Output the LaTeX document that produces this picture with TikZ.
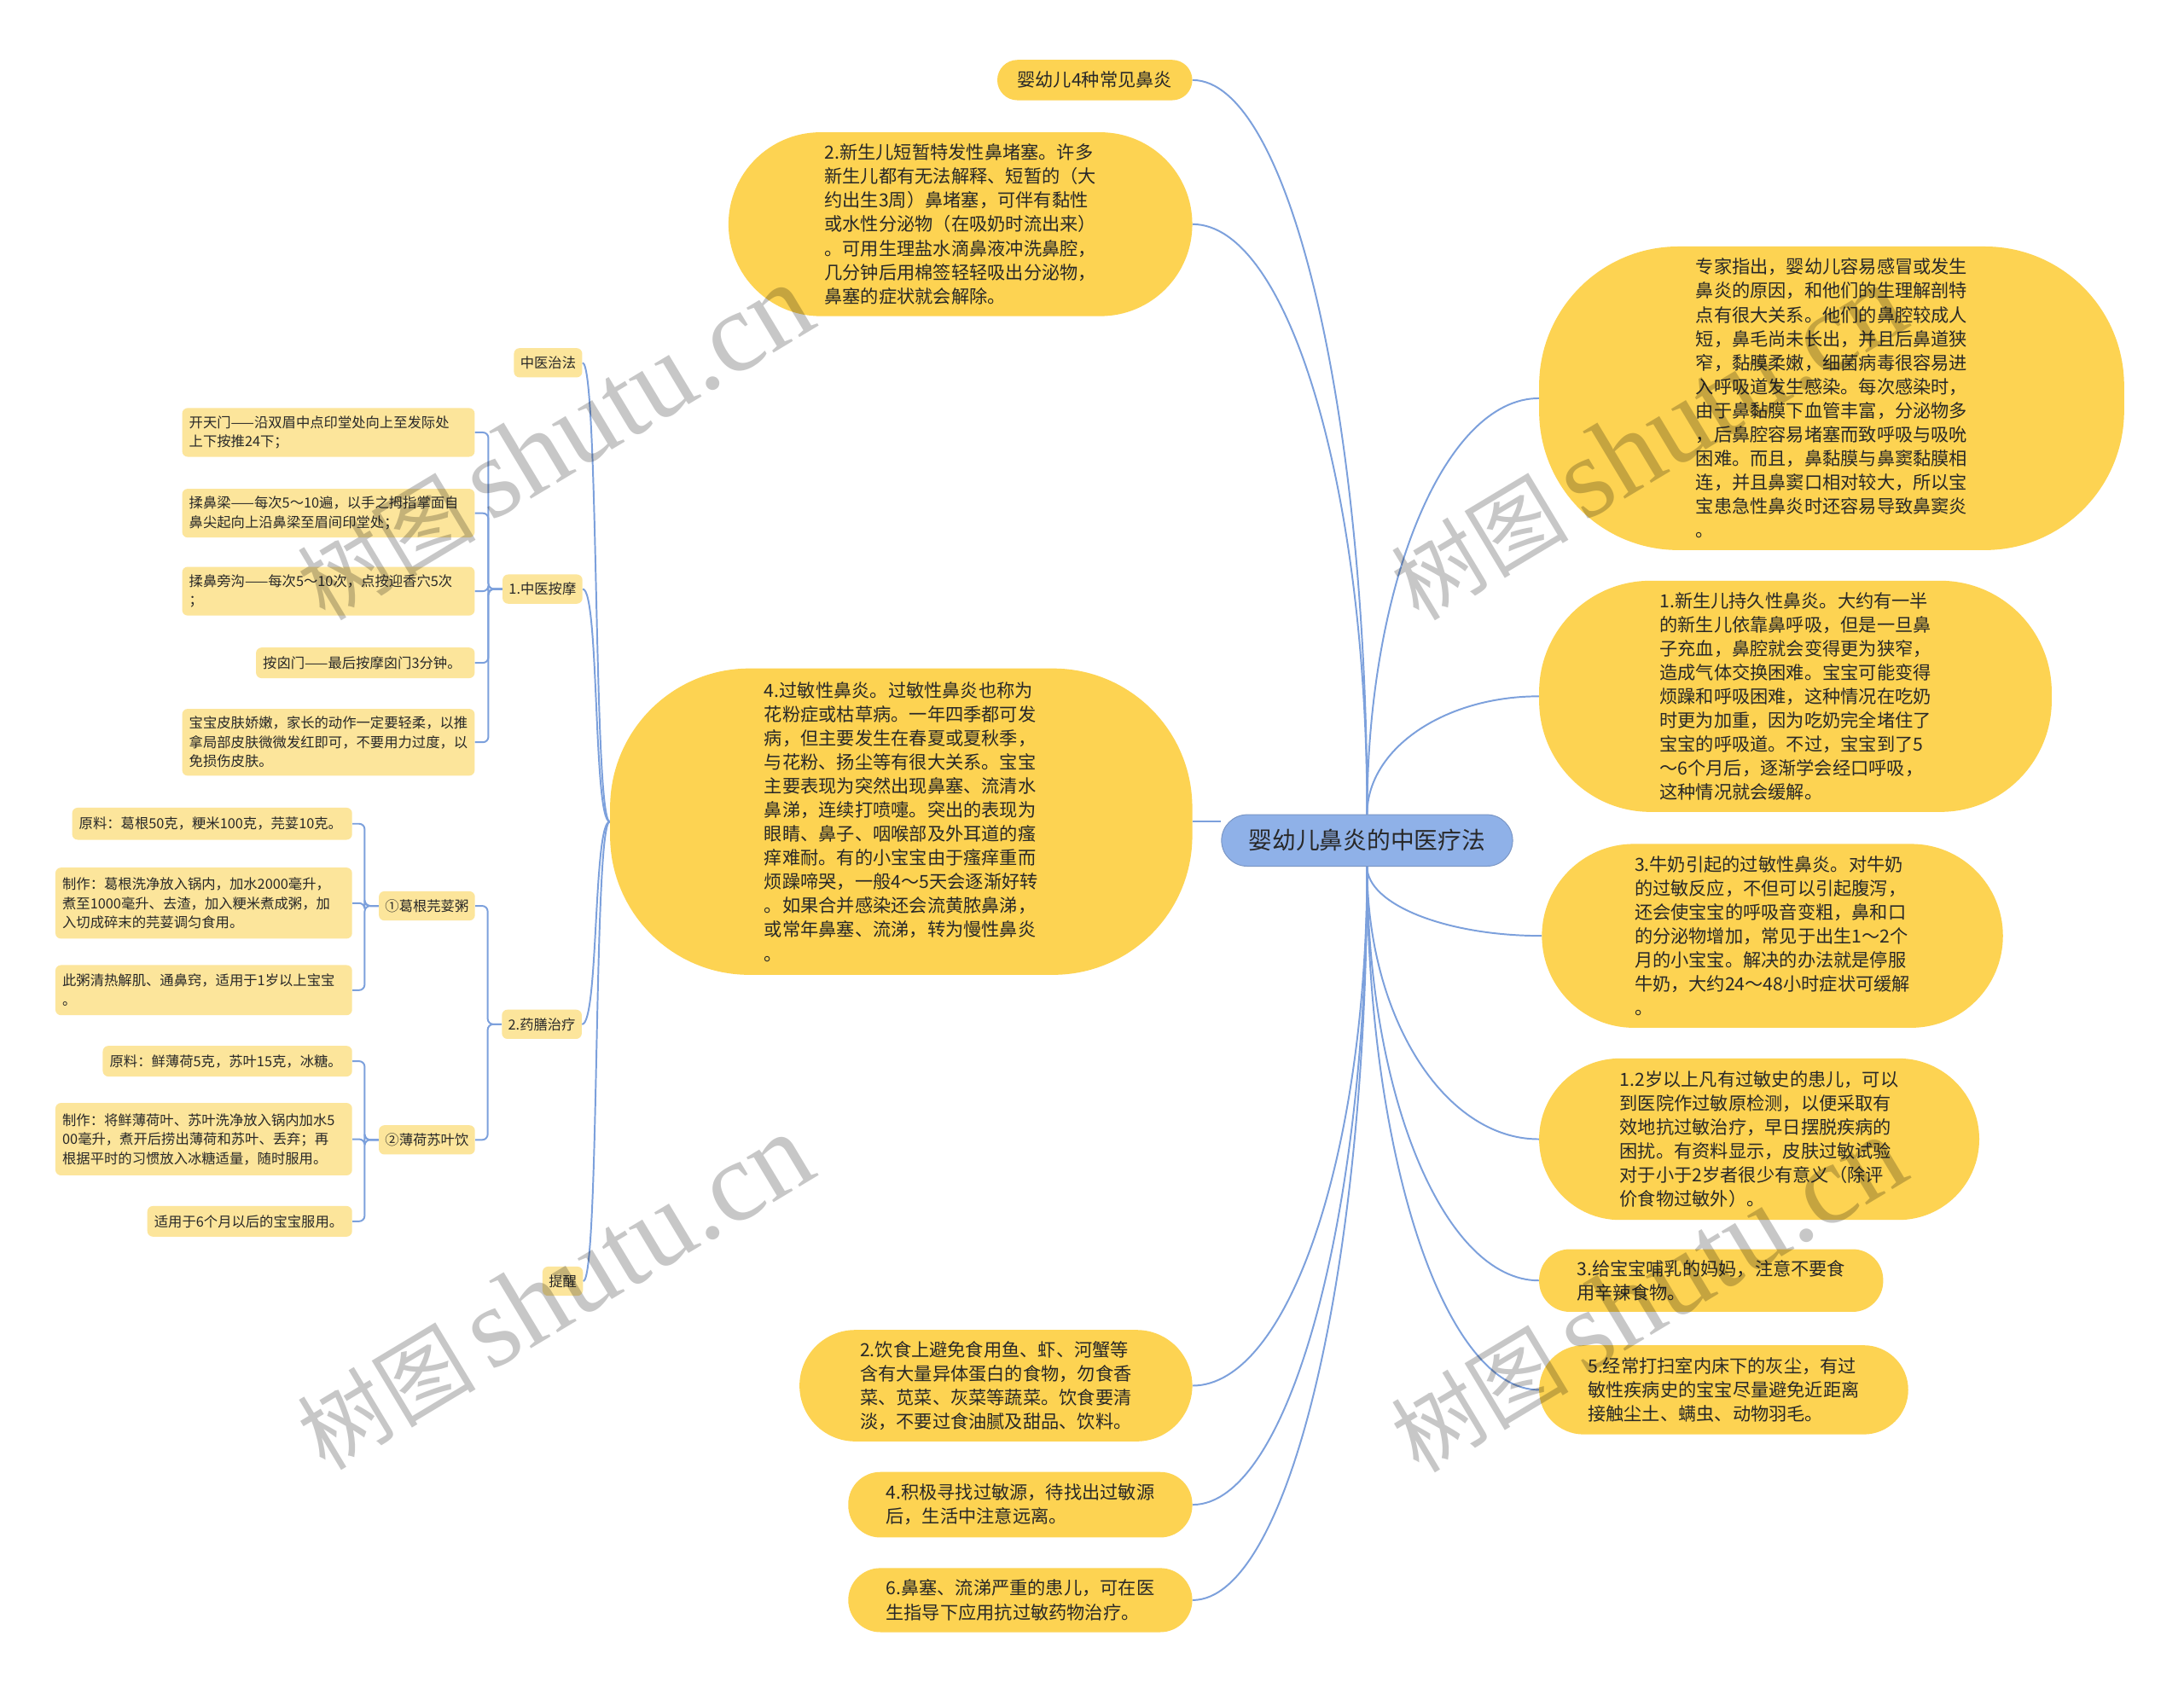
\documentclass[tikz,border=0pt]{standalone}
\usepackage{fontspec}
\setmainfont{Noto Sans CJK SC}
\newfontfamily\wmfont{Liberation Serif}
\usepackage{tikz}
\usetikzlibrary{positioning, backgrounds, calc}

\definecolor{pillyellow}{RGB}{253,211,82}
\definecolor{leafyellow}{RGB}{252,229,155}
\definecolor{rootblue}{RGB}{143,177,232}
\definecolor{linkblue}{RGB}{124,160,220}
\definecolor{inkgray}{RGB}{40,40,40}

\begin{document}
\begin{tikzpicture}[
    x=1pt, y=-1pt,
    font=\fontsize{13}{17.2}\selectfont,
    rootbox/.style={
        rectangle, rounded corners=18.5pt, fill=rootblue, draw=rootblue!85!black,
        minimum width=209pt, minimum height=37pt, inner sep=0pt,
        font=\fontsize{17}{20}\selectfont, text=inkgray, line width=0.6pt
    },
    pillbox/.style={
        rectangle, fill=pillyellow, inner sep=0pt, align=left, text=inkgray
    },
    pill/.style n args={3}{pillbox, minimum width=#1, minimum height=#2, rounded corners=#3},
    leafbox/.style={
        rectangle, rounded corners=4pt, fill=leafyellow, inner xsep=5pt, inner ysep=0pt,
        align=left, font=\fontsize{10}{13.8}\selectfont, text=inkgray
    },
    tagbox/.style={leafbox, inner xsep=4.5pt, minimum height=21pt},
    link/.style={draw=linkblue, line width=1.2pt},
    wmtext/.style={rotate=31, text=black, text opacity=0.22, inner sep=0pt},
]

\useasboundingbox (0,0) rectangle (1568,1216);

% ---- Root ----
\node[rootbox] (root) at (981.5,603.5) {婴幼儿鼻炎的中医疗法};

% ---- Left side, main topics ----
\node[pill={140pt}{29pt}{14.5pt}] (kinds) at (786,57.5) {婴幼儿4种常见鼻炎};

\node[pill={333pt}{132pt}{66pt}] (transient) at (689.5,161) {2.新生儿短暂特发性鼻堵塞。许多\\新生儿都有无法解释、短暂的（大\\约出生3周）鼻堵塞，可伴有黏性\\或水性分泌物（在吸奶时流出来）\\。可用生理盐水滴鼻液冲洗鼻腔，\\几分钟后用棉签轻轻吸出分泌物，\\鼻塞的症状就会解除。};

\node[pill={418pt}{220pt}{100pt}] (allergy) at (647,590) {4.过敏性鼻炎。过敏性鼻炎也称为\\花粉症或枯草病。一年四季都可发\\病，但主要发生在春夏或夏秋季，\\与花粉、扬尘等有很大关系。宝宝\\主要表现为突然出现鼻塞、流清水\\鼻涕，连续打喷嚏。突出的表现为\\眼睛、鼻子、咽喉部及外耳道的瘙\\痒难耐。有的小宝宝由于瘙痒重而\\烦躁啼哭，一般4～5天会逐渐好转\\。如果合并感染还会流黄脓鼻涕，\\或常年鼻塞、流涕，转为慢性鼻炎\\。};

\node[pill={282pt}{80pt}{40pt}] (diet) at (715,995) {2.饮食上避免食用鱼、虾、河蟹等\\含有大量异体蛋白的食物，勿食香\\菜、苋菜、灰菜等蔬菜。饮食要清\\淡，不要过食油腻及甜品、饮料。};

\node[pill={247pt}{47pt}{23pt}] (source) at (732.5,1080.5) {4.积极寻找过敏源，待找出过敏源\\后，生活中注意远离。};

\node[pill={247pt}{46pt}{23pt}] (drug) at (732.5,1149) {6.鼻塞、流涕严重的患儿，可在医\\生指导下应用抗过敏药物治疗。};

% ---- Right side, main topics ----
\node[pill={420pt}{218pt}{100pt}] (expert) at (1315,286) {专家指出，婴幼儿容易感冒或发生\\鼻炎的原因，和他们的生理解剖特\\点有很大关系。他们的鼻腔较成人\\短，鼻毛尚未长出，并且后鼻道狭\\窄，黏膜柔嫩，细菌病毒很容易进\\入呼吸道发生感染。每次感染时，\\由于鼻黏膜下血管丰富，分泌物多\\，后鼻腔容易堵塞而致呼吸与吸吮\\困难。而且，鼻黏膜与鼻窦黏膜相\\连，并且鼻窦口相对较大，所以宝\\宝患急性鼻炎时还容易导致鼻窦炎\\。};

\node[pill={368pt}{166pt}{80pt}] (persistent) at (1289,500) {1.新生儿持久性鼻炎。大约有一半\\的新生儿依靠鼻呼吸，但是一旦鼻\\子充血，鼻腔就会变得更为狭窄，\\造成气体交换困难。宝宝可能变得\\烦躁和呼吸困难，这种情况在吃奶\\时更为加重，因为吃奶完全堵住了\\宝宝的呼吸道。不过，宝宝到了5\\～6个月后，逐渐学会经口呼吸，\\这种情况就会缓解。};

\node[pill={331pt}{132pt}{66pt}] (milk) at (1272.5,672) {3.牛奶引起的过敏性鼻炎。对牛奶\\的过敏反应，不但可以引起腹泻，\\还会使宝宝的呼吸音变粗，鼻和口\\的分泌物增加，常见于出生1～2个\\月的小宝宝。解决的办法就是停服\\牛奶，大约24～48小时症状可缓解\\。};

\node[pill={316pt}{116pt}{58pt}] (test) at (1263,818) {1.2岁以上凡有过敏史的患儿，可以\\到医院作过敏原检测，以便采取有\\效地抗过敏治疗，早日摆脱疾病的\\困扰。有资料显示，皮肤过敏试验\\对于小于2岁者很少有意义（除评\\价食物过敏外）。};

\node[pill={247pt}{45pt}{22pt}] (nursing) at (1228.5,919.5) {3.给宝宝哺乳的妈妈，注意不要食\\用辛辣食物。};

\node[pill={265pt}{64pt}{32pt}] (dust) at (1237.5,998) {5.经常打扫室内床下的灰尘，有过\\敏性疾病史的宝宝尽量避免近距离\\接触尘土、螨虫、动物羽毛。};

% ---- Far left: TCM branches ----
\node[tagbox] (tcm) at (393.5,260.5) {中医治法};
\node[tagbox] (massage) at (389.5,423) {1.中医按摩};
\node[tagbox] (dietx) at (389,735.5) {2.药膳治疗};
\node[tagbox] (remind) at (404,920) {提醒};
\node[tagbox] (gegen) at (306.5,650.5) {①葛根芫荽粥};
\node[tagbox] (bohe) at (306.5,818.5) {②薄荷苏叶饮};

% massage steps
\node[leafbox, anchor=east, text width=200pt, minimum height=35pt] (kaitian) at (341,310.5) {开天门——沿双眉中点印堂处向上至发际处\\上下按推24下；};
\node[leafbox, anchor=east, text width=200pt, minimum height=35pt] (roubiliang) at (341,368.5) {揉鼻梁——每次5～10遍，以手之拇指掌面自\\鼻尖起向上沿鼻梁至眉间印堂处；};
\node[leafbox, anchor=east, text width=200pt, minimum height=35pt] (roupang) at (341,424.5) {揉鼻旁沟——每次5～10次，点按迎香穴5次\\；};
\node[leafbox, anchor=east, text width=147pt, minimum height=22pt] (anxin) at (341,476) {按囟门——最后按摩囟门3分钟。};
\node[leafbox, anchor=east, text width=200pt, minimum height=48pt] (pifu) at (341,533) {宝宝皮肤娇嫩，家长的动作一定要轻柔，以推\\拿局部皮肤微微发红即可，不要用力过度，以\\免损伤皮肤。};

% recipe 1
\node[leafbox, anchor=east, text width=191pt, minimum height=23pt] (yuanA) at (253,591.5) {原料：葛根50克，粳米100克，芫荽10克。};
\node[leafbox, anchor=east, text width=203pt, minimum height=51pt] (zhizuoA) at (253,648.5) {制作：葛根洗净放入锅内，加水2000毫升，\\煮至1000毫升、去渣，加入粳米煮成粥，加\\入切成碎末的芫荽调匀食用。};
\node[leafbox, anchor=east, text width=203pt, minimum height=36pt] (cizhou) at (253,711) {此粥清热解肌、通鼻窍，适用于1岁以上宝宝\\。};

% recipe 2
\node[leafbox, anchor=east, text width=169pt, minimum height=22pt] (yuanB) at (253,762) {原料：鲜薄荷5克，苏叶15克，冰糖。};
\node[leafbox, anchor=east, text width=203pt, minimum height=52pt] (zhizuoB) at (253,818) {制作：将鲜薄荷叶、苏叶洗净放入锅内加水5\\00毫升，煮开后捞出薄荷和苏叶、丢弃；再\\根据平时的习惯放入冰糖适量，随时服用。};
\node[leafbox, anchor=east, text width=137pt, minimum height=22pt] (shiyong) at (253,877) {适用于6个月以后的宝宝服用。};

% ---- Connectors ----
\begin{scope}[on background layer]
    \fill[white] (0,0) rectangle (1568,1216);

    % root top
    \foreach \tgt/\a/\u/\v in {kinds/east/-290/69, transient/east/-233/69,
                               expert/west/-164/-68, persistent/west/-47/-68} {
        \draw[link] (root.north) .. controls +(0,\u) and +(\v,0) .. (\tgt.\a);
    }
    % root bottom
    \foreach \tgt/\a/\u/\v in {milk/west/27/-69, test/west/108/-68, nursing/west/164/-68,
                               dust/west/207/-68, diet/east/205/69, source/east/252/69,
                               drug/east/290/69} {
        \draw[link] (root.south) .. controls +(0,\u) and +(\v,0) .. (\tgt.\a);
    }
    \draw[link] (allergy.east) -- (allergy.east -| root.west);

    % allergy to far-left branches
    \foreach \tgt in {tcm, massage, dietx, remind} {
        \draw[link] (allergy.west) .. controls +(-12,0) and +(12,0) .. (\tgt.east);
    }

    % brackets to leaves
    \foreach \src/\kids in {massage/{kaitian,roubiliang,roupang,anxin,pifu},
                            dietx/{gegen,bohe},
                            gegen/{yuanA,zhizuoA,cizhou},
                            bohe/{yuanB,zhizuoB,shiyong}} {
        \foreach \kid in \kids {
            \draw[link, rounded corners=4pt] (\src.west) -- ++(-10,0) |- (\kid.east);
        }
    }
\end{scope}

% ---- Watermarks ----
\foreach \i/\wx/\wy in {1/398/318, 2/1183/318, 3/398/928, 4/1183/930} {
    \node[wmtext] (wm\i) at (\wx,\wy) {\fontsize{64}{64}\selectfont 树图\,\wmfont\fontsize{82}{82}\selectfont shutu.cn};
}

\end{tikzpicture}
\end{document}
